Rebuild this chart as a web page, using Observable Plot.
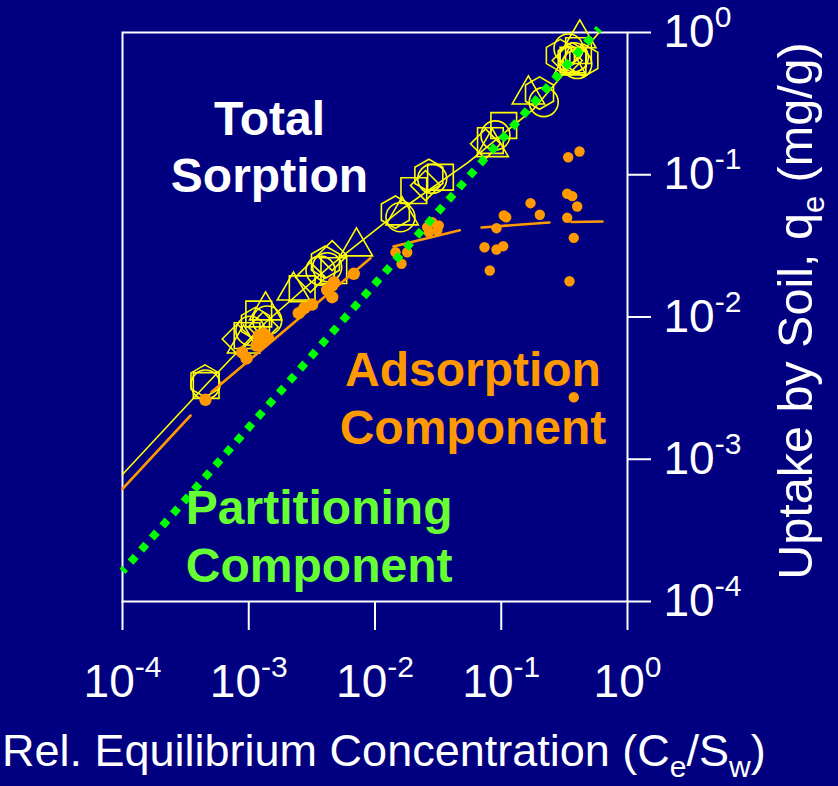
<!DOCTYPE html>
<html>
<head>
<meta charset="utf-8">
<script src="https://cdn.jsdelivr.net/npm/d3@7"></script>
<script src="https://cdn.jsdelivr.net/npm/@observablehq/plot@0.6"></script>
<style>
html, body { margin: 0; padding: 0; background: #000080; }
#chart { width: 838px; height: 786px; overflow: hidden; }
</style>
</head>
<body>
<div id="chart"></div>
<script>
// ---- tick values ----
const xTicks = [1e-4, 1e-3, 1e-2, 1e-1, 1];
const yTicks = [1e-4, 1e-3, 1e-2, 1e-1, 1];

// ---- partitioning component (linear isotherm) ----
const partX = [1e-4, 0.594];
const partY = [1.63e-4, 1.067];

// ---- total sorption fitted curve ----
const totalLineX = [1e-4, 4.38e-4, 1.357e-3, 4.44e-3, 1.68e-2, 5.50e-2, 0.182, 0.600];
const totalLineY = [7.81e-4, 3.195e-3, 9.15e-3, 2.30e-2, 5.84e-2, 0.1227, 0.292, 1.008];

// ---- total sorption measurements (open symbols) ----
const totalX = [4.54e-4, 4.6e-4, 4.5e-4,
  8.1e-4, 9.1e-4, 9.7e-4, 1.03e-3, 1.13e-3, 1.20e-3, 1.36e-3, 1.40e-3, 1.30e-3,
  2.26e-3, 2.65e-3, 3.08e-3, 3.70e-3, 4.05e-3, 4.18e-3, 4.72e-3, 4.58e-3, 7.13e-3,
  1.45e-2, 1.59e-2, 1.64e-2, 2.03e-2,
  2.51e-2, 2.67e-2, 2.84e-2, 3.30e-2,
  0.075, 0.0848, 0.082, 0.090, 0.1047,
  0.164, 0.201, 0.217,
  0.294, 0.333, 0.341, 0.35, 0.365, 0.37, 0.376, 0.409, 0.419, 0.451, 0.40];
const totalY = [3.35e-3, 3.3e-3, 3.55e-3,
  7.0e-3, 6.5e-3, 7.4e-3, 8.0e-3, 9.0e-3, 1.05e-2, 1.11e-2, 9.45e-3, 8.5e-3,
  1.53e-2, 1.58e-2, 1.90e-2, 2.12e-2, 2.43e-2, 2.24e-2, 2.12e-2, 2.70e-2, 3.13e-2,
  5.46e-2, 5.03e-2, 5.17e-2, 7.74e-2,
  8.4e-2, 9.9e-2, 9.36e-2, 9.6e-2,
  0.165, 0.156, 0.174, 0.189, 0.222,
  0.366, 0.375, 0.324,
  0.689, 0.636, 0.772, 0.586, 0.653, 0.64, 0.670, 0.746, 0.908, 0.636, 0.60];
const totalSym = ["circle", "square", "hexagon",
  "diamond2", "triangle", "square", "circle", "hexagon", "square", "triangle", "circle", "diamond2",
  "triangle", "square", "diamond2", "circle", "hexagon", "circle", "square", "diamond2", "triangle",
  "hexagon", "circle", "triangle", "square",
  "diamond2", "hexagon", "circle", "square",
  "diamond2", "triangle", "square", "circle", "square",
  "triangle", "hexagon", "circle",
  "hexagon", "diamond2", "circle", "triangle", "hexagon", "square", "circle", "square", "triangle", "hexagon", "circle"];

// ---- adsorption component fitted segments ----
const adsLineX = [1e-4, 3.46e-4, 5.07e-4, 9.20e-3, 1.40e-2, 4.70e-2, 6.98e-2, 0.241, 0.360, 0.634];
const adsLineY = [6.19e-4, 2.03e-3, 2.97e-3, 2.59e-2, 3.13e-2, 4.07e-2, 4.26e-2, 4.62e-2, 4.65e-2, 4.69e-2];
const adsLineSeg = [1, 1, 2, 2, 3, 3, 4, 4, 5, 5];

// ---- adsorption component (filled dots) ----
const adsLowX = [4.54e-4, 8.87e-4, 9.60e-4, 1.201e-3, 1.316e-3, 1.415e-3, 1.239e-3, 1.151e-3,
  2.49e-3, 2.764e-3, 3.18e-3, 4.18e-3, 4.58e-3, 4.58e-3, 4.72e-3, 6.79e-3];
const adsLowY = [2.62e-3, 5.63e-3, 5.11e-3, 7.41e-3, 7.62e-3, 7.14e-3, 6.65e-3, 6.30e-3,
  1.063e-2, 1.161e-2, 1.224e-2, 1.553e-2, 1.665e-2, 1.378e-2, 1.757e-2, 2.012e-2];
const adsHighX = [1.453e-2, 1.622e-2, 1.799e-2, 2.591e-2, 2.838e-2, 3.20e-2, 3.11e-2, 2.668e-2,
  7.37e-2, 9.17e-2, 0.1036, 8.11e-2, 9.17e-2, 0.1048, 0.1094, 0.1705, 0.2020,
  0.339, 0.4168, 0.333, 0.365, 0.3995, 0.333, 0.3755, 0.347, 0.3755];
const adsHighY = [2.854e-2, 2.366e-2, 2.854e-2, 4.28e-2, 4.64e-2, 4.40e-2, 4.06e-2, 3.95e-2,
  3.095e-2, 2.98e-2, 3.146e-2, 2.122e-2, 4.21e-2, 5.17e-2, 5.03e-2, 6.31e-2, 5.23e-2,
  0.1328, 0.1457, 7.35e-2, 7.07e-2, 5.98e-2, 4.98e-2, 3.60e-2, 1.785e-2, 2.73e-3];

// ---- annotations ----
const labelText = ["Total\nSorption", "Adsorption\nComponent", "Partitioning\nComponent"];
const labelX = [1.46e-3, 0.0597, 3.61e-3];
const labelY = [0.1618, 2.75e-3, 2.96e-4];
const labelColor = ["#FFFFFF", "#FF9900", "#66FF33"];

const idx = (arr) => arr.map((_, i) => i);
const symbolSizes = {circle: 14.5, square: 14.5, hexagon: 14, diamond2: 13.5, triangle: 12};

const symbolMarks = Object.keys(symbolSizes).map(s =>
  Plot.dot(idx(totalX).filter(i => totalSym[i] === s), {
    x: i => totalX[i], y: i => totalY[i], symbol: s, r: symbolSizes[s],
    stroke: "#FFFF00", strokeWidth: 1.6, fill: "none"
  })
);

const labelMarks = labelText.map((t, i) =>
  Plot.text([t], {
    x: () => labelX[i], y: () => labelY[i], text: d => d,
    fill: labelColor[i], fontSize: 48, fontWeight: "bold",
    lineHeight: 1.2, textAnchor: "middle", lineAnchor: "middle",
    fontFamily: "'Liberation Sans', Arial, sans-serif"
  })
);

const chart = Plot.plot({
  width: 838,
  height: 786,
  marginLeft: 122,
  marginRight: 211,
  marginTop: 32,
  marginBottom: 185,
  x: {type: "log", domain: [1e-4, 1]},
  y: {type: "log", domain: [1e-4, 1]},
  style: {
    background: "#000080",
    color: "white",
    fontFamily: "'Liberation Sans', Arial, sans-serif",
    fontSize: "46px",
    overflow: "visible"
  },
  marks: [
    Plot.frame({stroke: "white", strokeWidth: 2}),
    Plot.axisX({ticks: xTicks, tickSize: 29, tickPadding: 34, stroke: "white", strokeWidth: 2,
      tickFormat: d => String(Math.round(Math.log10(d))), fontSize: 46, label: null}),
    Plot.axisY({anchor: "right", ticks: yTicks, tickSize: 23, tickPadding: 13, stroke: "white", strokeWidth: 2,
      tickFormat: d => String(Math.round(Math.log10(d))), fontSize: 46, label: null}),
    Plot.line(idx(totalLineX), {x: i => totalLineX[i], y: i => totalLineY[i], stroke: "#FFFF00", strokeWidth: 1.6}),
    ...symbolMarks,
    Plot.line(idx(adsLineX), {x: i => adsLineX[i], y: i => adsLineY[i], z: i => adsLineSeg[i],
      stroke: "#FF9900", strokeWidth: 2.6}),
    Plot.dot(idx(adsLowX), {x: i => adsLowX[i], y: i => adsLowY[i], r: 6.2, fill: "#FF9900", stroke: "none"}),
    Plot.dot(idx(adsHighX), {x: i => adsHighX[i], y: i => adsHighY[i], r: 5.2, fill: "#FF9900", stroke: "none"}),
    Plot.line(idx(partX), {x: i => partX[i], y: i => partY[i], stroke: "#00FF00", strokeWidth: 7.8,
      strokeDasharray: "7.8,8.26", strokeDashoffset: 3.9, strokeLinecap: "butt"}),
    ...labelMarks
  ]
});

document.getElementById("chart").appendChild(chart);

// superscript exponents on tick labels
const svg = d3.select(chart);
function supify(sel) {
  sel.each(function () {
    const t = d3.select(this);
    const exp = t.text();
    t.text(null);
    t.append("tspan").text("10");
    t.append("tspan").attr("font-size", "30px").attr("dy", "-20").text(exp);
  });
}
supify(svg.selectAll('g[aria-label="x-axis tick label"] text'));
supify(svg.selectAll('g[aria-label="y-axis tick label"] text'));

// axis titles
const xt = svg.append("text")
  .attr("x", 2).attr("y", 766)
  .attr("text-anchor", "start")
  .attr("fill", "white").attr("font-size", 45)
  .attr("font-family", "'Liberation Sans', Arial, sans-serif");
xt.append("tspan").text("Rel. Equilibrium Concentration (C");
xt.append("tspan").attr("font-size", "30px").attr("dy", 11).text("e");
xt.append("tspan").attr("dy", -11).text("/S");
xt.append("tspan").attr("font-size", "30px").attr("dy", 11).text("w");
xt.append("tspan").attr("dy", -11).text(")");

const yt = svg.append("text")
  .attr("transform", "translate(812,311) rotate(-90)")
  .attr("text-anchor", "middle")
  .attr("fill", "white").attr("font-size", 48.5)
  .attr("font-family", "'Liberation Sans', Arial, sans-serif");
yt.append("tspan").text("Uptake by Soil, q");
yt.append("tspan").attr("font-size", "31px").attr("dy", 12).text("e");
yt.append("tspan").attr("dy", -12).text(" (mg/g)");
</script>
</body>
</html>
